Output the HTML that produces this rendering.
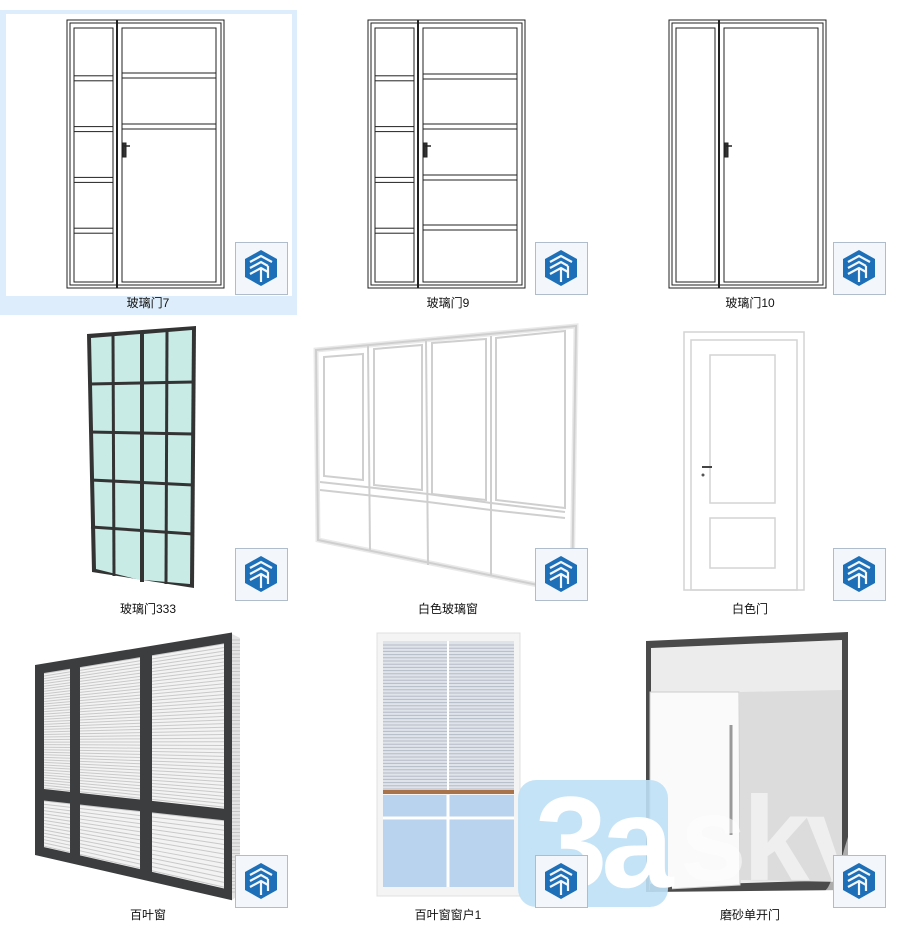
<!DOCTYPE html>
<html><head><meta charset="utf-8">
<style>
html,body{margin:0;padding:0;background:#fff;}
body{width:900px;height:934px;overflow:hidden;position:relative;font-family:"Liberation Sans","Noto Sans CJK SC",sans-serif;}
svg{position:absolute;left:0;top:0;}
.lbl{position:absolute;font-size:12px;color:#111;width:200px;text-align:center;line-height:14px;}
</style></head>
<body>
<svg id="s" width="900" height="934" viewBox="0 0 900 934">
<defs>
<g id="icon">
<rect x="0.5" y="0.5" width="52" height="52" fill="#f3f6fa" stroke="#aebccc"/>
<polygon points="26,8 42,17 42,35 26,44 10,35 10,17" fill="#1d6fb8"/>
<path d="M15 20 L26 14 L37 20 M15 26 L26 20 L33 24 M15 32 L26 26 L33 30 M26 26 L26 40 M33 24 L33 36" stroke="#f3f6fa" stroke-width="2.2" fill="none"/>
</g>
</defs>
<rect x="0" y="10" width="297" height="305" fill="#deedfb"/>
<rect x="6" y="14" width="286" height="282" fill="#fff"/>
<g id="doors" fill="none" stroke="#222" stroke-width="1"></g>
<g>
<polygon points="87,334 196,326 194,588 92,572" fill="#333"/>
<polygon points="91,338 140,334 140,580 96,569" fill="#c8ebe6"/>
<polygon points="144,334 192,330 190,584 144,580" fill="#c8ebe6"/>
<g stroke="#333" stroke-width="3">
<line x1="113" y1="334" x2="114" y2="576"/><line x1="167" y1="331" x2="166" y2="584"/>
<line x1="90" y1="384" x2="193" y2="382"/><line x1="90" y1="432" x2="193" y2="434"/>
<line x1="91" y1="480" x2="193" y2="485"/><line x1="91" y1="527" x2="193" y2="534"/>
</g>
<line x1="142" y1="332" x2="142" y2="582" stroke="#333" stroke-width="4"/>
</g>
<g fill="none" stroke="#cfcfcf" stroke-width="2">
<polygon points="316,350 576,326 572,592 318,540" stroke-width="5" stroke="#e9e9e9"/>
<polygon points="316,350 576,326 572,592 318,540"/>
<line x1="368" y1="346" x2="370" y2="551"/><line x1="426" y1="341" x2="428" y2="565"/><line x1="491" y1="336" x2="491" y2="576"/>
<polyline points="320,482 366,487 428,494 491,503 565,512"/>
<polyline points="320,490 366,495 428,502 491,510 565,518"/>
<polygon points="324,357 363,354 363,480 324,476"/><polygon points="374,349 422,345 422,490 374,485"/>
<polygon points="432,343 486,339 486,500 432,494"/><polygon points="496,338 565,331 565,508 496,500"/>
</g>
<g fill="none" stroke="#d4d4d4" stroke-width="1.5">
<rect x="684" y="332" width="120" height="258"/>
<rect x="691" y="340" width="106" height="250"/>
<rect x="710" y="355" width="65" height="148"/>
<rect x="710" y="518" width="65" height="50"/>
</g>
<line x1="702" y1="467" x2="712" y2="467" stroke="#444" stroke-width="2"/><circle cx="703" cy="475" r="1.5" fill="#555"/>
<g id="louver"></g>
<rect x="377" y="633" width="143" height="263" fill="#f4f4f4" stroke="#e0e0e0"/>
<rect x="383" y="641" width="131" height="150" fill="#dfe3ea"/>
<g id="blind" stroke="#b5bbc6" stroke-width="1"></g>
<rect x="383" y="790" width="131" height="4" fill="#a8724a"/>
<rect x="383" y="795" width="131" height="92" fill="#b9d2ee"/>
<line x1="448" y1="795" x2="448" y2="887" stroke="#fff" stroke-width="3"/>
<line x1="383" y1="818" x2="514" y2="818" stroke="#fff" stroke-width="3"/>
<line x1="448" y1="641" x2="448" y2="790" stroke="#fff" stroke-width="2"/>
<polygon points="646,641 848,632 848,890 646,892" fill="#4a4a4a"/>
<polygon points="651,648 842,640 842,880 651,886" fill="#ececec"/>
<polygon points="650,692 739,692 740,885 650,890" fill="#fafafa" stroke="#ccc"/>
<line x1="731" y1="725" x2="731" y2="835" stroke="#999" stroke-width="3"/>
<polygon points="740,692 842,690 842,882 740,880" fill="#dcdcdc"/>
<polygon points="650,884 672,880 672,890 650,892" fill="#555"/>
<rect x="518" y="780" width="150" height="127" rx="18" fill="#bfe0f6" opacity="0.9"/>
<text x="535" y="887" font-family="Liberation Sans, sans-serif" font-weight="bold" font-size="130" fill="#fff" letter-spacing="-6">3a</text>
<text x="680" y="880" font-family="Liberation Sans, sans-serif" font-weight="bold" font-size="120" fill="#fff" opacity="0.55" letter-spacing="-4">sky</text>
<use href="#icon" x="235" y="242"/><use href="#icon" x="535" y="242"/><use href="#icon" x="833" y="242"/>
<use href="#icon" x="235" y="548"/><use href="#icon" x="535" y="548"/><use href="#icon" x="833" y="548"/>
<use href="#icon" x="235" y="855"/><use href="#icon" x="535" y="855"/><use href="#icon" x="833" y="855"/>
</svg>
<div class="lbl" style="left:48px;top:296px">玻璃门7</div>
<div class="lbl" style="left:348px;top:296px">玻璃门9</div>
<div class="lbl" style="left:650px;top:296px">玻璃门10</div>
<div class="lbl" style="left:48px;top:602px">玻璃门333</div>
<div class="lbl" style="left:348px;top:602px">白色玻璃窗</div>
<div class="lbl" style="left:650px;top:602px">白色门</div>
<div class="lbl" style="left:48px;top:908px">百叶窗</div>
<div class="lbl" style="left:348px;top:908px">百叶窗窗户1</div>
<div class="lbl" style="left:650px;top:908px">磨砂单开门</div>
<script>
(function(){
var NS="http://www.w3.org/2000/svg";
function el(p,t,a){var e=document.createElementNS(NS,t);for(var k in a)e.setAttribute(k,a[k]);p.appendChild(e);return e;}
var g=document.getElementById('doors');
function door(x,rows,mainRows){
 var y0=20,y1=288,x1=x+157,sx=x+50;
 el(g,'rect',{x:x,y:y0,width:157,height:268});
 el(g,'rect',{x:x+3,y:y0+3,width:151,height:262});
 el(g,'line',{x1:sx,y1:y0,x2:sx,y2:y1,'stroke-width':2});
 el(g,'rect',{x:x+7,y:y0+8,width:sx-x-11,height:254});
 el(g,'rect',{x:sx+5,y:y0+8,width:x1-sx-13,height:254});
 var h=254/rows;
 for(var i=1;i<rows;i++){var yy=y0+8+h*i;el(g,'rect',{x:x+7,y:yy-3,width:sx-x-11,height:5});}
 mainRows.forEach(function(yy){el(g,'rect',{x:sx+5,y:yy-3,width:x1-sx-13,height:5});});
 el(g,'rect',{x:sx+6,y:143,width:3,height:14,fill:'#333'});
 el(g,'line',{x1:sx+7,y1:146,x2:sx+13,y2:146,'stroke-width':1.5});
}
door(67,5,[76,127]);
door(368,5,[77,127,178,228]);
door(669,1,[]);
var b=document.getElementById('blind');
for(var y=645;y<790;y+=3.2)el(b,'line',{x1:383,y1:y,x2:514,y2:y});
var L=document.getElementById('louver');
function ftop(x){return 665-(x-35)*0.165;}
function fbot(x){return 855+(x-35)*0.23;}
function ftr(x){return 792+(x-35)*0.11;}
el(L,'polygon',{points:'232,634 240,638 240,894 232,900',fill:'#e4e4e4'});
for(var y2=640;y2<895;y2+=3.5)el(L,'line',{x1:232,y1:y2,x2:240,y2:y2,stroke:'#c4c4c4'});
el(L,'polygon',{points:[35,ftop(35),232,ftop(232),232,fbot(232),35,fbot(35)].join(' '),fill:'#3b3d3f'});
[[44,70],[80,140],[152,224]].forEach(function(c){
 var a=c[0],z=c[1],t;
 var p=[a,ftop(a)+10,z,ftop(z)+10,z,ftr(z)-4,a,ftr(a)-4];
 el(L,'polygon',{points:p.join(' '),fill:'#f3f3f3'});
 for(t=0;t<1;t+=0.022){el(L,'line',{x1:a,y1:p[1]+t*(p[7]-p[1]),x2:z,y2:p[3]+t*(p[5]-p[3]),stroke:'#c9c9c9'});}
 var q=[a,ftr(a)+8,z,ftr(z)+8,z,fbot(z)-10,a,fbot(a)-10];
 el(L,'polygon',{points:q.join(' '),fill:'#f3f3f3'});
 for(t=0;t<1;t+=0.07){el(L,'line',{x1:a,y1:q[1]+t*(q[7]-q[1]),x2:z,y2:q[3]+t*(q[5]-q[3]),stroke:'#c9c9c9'});}
});
})();
</script>
</body></html>
